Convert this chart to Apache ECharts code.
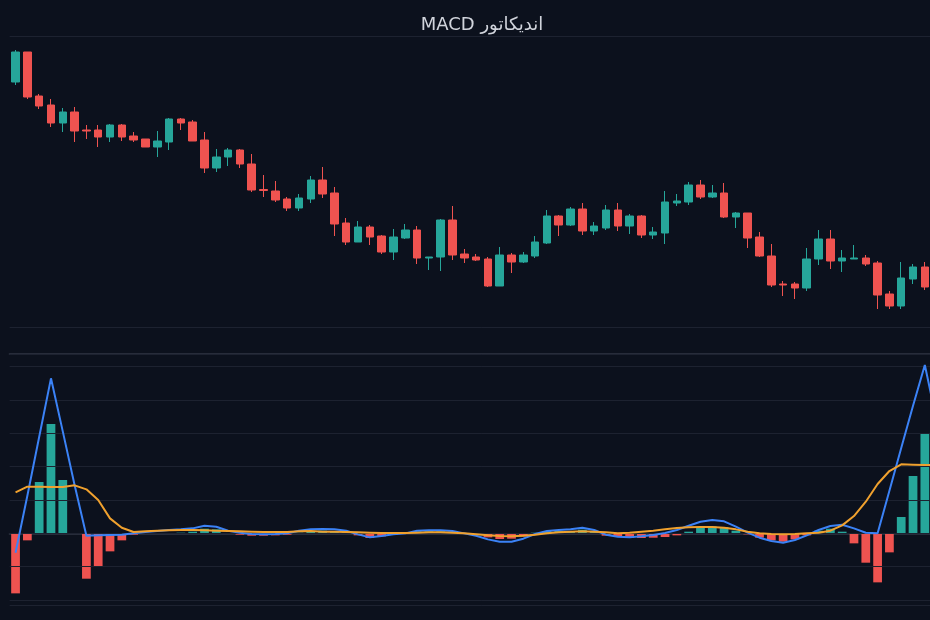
<!DOCTYPE html>
<html lang="fa">
<head>
<meta charset="utf-8">
<title>MACD</title>
<script src="https://cdn.jsdelivr.net/npm/echarts@6.0.0/dist/echarts.min.js"></script>
<style>
    html, body { margin: 0; padding: 0; background: #0c111d; overflow: hidden; }
    #macd { width: 964px; height: 620px; }
</style>
</head>
<body>
<div id="macd" dir="rtl"></div>
<script>
// candles: [open, close, low, high]
var candles = [
    [245, 275, 242, 277], [275, 230, 228, 275], [231, 221, 218, 233], [222, 204, 200, 228], [204, 215, 195, 219],
    [215, 196, 185, 220], [197, 196, 188, 202], [197, 190, 180, 202], [190, 202, 185, 203], [202, 190, 186, 203],
    [191, 187, 185, 195], [188, 180, 180, 188], [180, 186, 170, 196], [185, 208, 177, 209], [208, 204, 197, 209],
    [205, 186, 186, 207], [187, 159, 154, 195], [159, 170, 155, 178], [170, 177, 161, 179], [177, 163, 159, 178],
    [163, 137, 135, 173], [137.5, 136.5, 130, 152], [136, 127, 125, 146], [128, 119, 116, 130], [119, 129, 116, 133],
    [128, 147, 124, 151], [147, 133, 129, 160], [134, 103, 91, 140], [104, 85, 82, 109], [85, 100, 85, 106],
    [100, 90, 82, 102], [91, 75, 73, 92], [75, 90, 67, 98], [89, 97, 88, 103], [97, 69, 63, 101],
    [69, 70, 57, 70], [70, 107, 56, 108], [107, 72, 67, 121], [73, 69, 64, 78], [70, 67, 66, 73],
    [68, 41, 40, 70], [41, 72, 41, 80], [72, 65, 54, 74], [65, 72, 64, 75], [71, 85, 69, 91],
    [84, 111, 83, 117], [111, 102, 91, 112], [102, 118, 101, 120], [118, 96, 92, 124], [96, 101, 92, 105],
    [99, 117, 97, 122], [117, 101, 96, 124], [101, 111, 93, 113], [111, 92, 89, 112], [92, 95, 88, 100],
    [94, 125, 83, 136], [124, 126, 121, 133], [125, 142, 122, 145], [142, 130, 128, 147], [130, 134, 129, 142],
    [134, 110, 109, 144], [110, 114, 99, 115], [114, 89, 79, 114], [90, 71, 70, 95], [71, 42, 40, 83],
    [43, 42, 31, 46], [43, 39, 28, 45], [39, 68, 36, 79], [68, 88, 62, 97], [88, 66, 58, 97],
    [66, 69, 55, 77], [68, 69, 68, 82], [69, 63, 61, 72], [64, 32, 18, 66], [33, 21, 18, 36],
    [21, 49, 18, 65], [48, 60, 43, 63], [60, 40, 37, 65], [40, 30, 25, 45], [30, 35, 25, 40]
];

var difData = [
    -5.8, 11.3, 28.9, 46.5, 30.6, 14.5, -0.7, -0.6, -0.5, -0.4,
    0, 0.4, 0.7, 1.0, 1.2, 1.5, 2.3, 2.0, 0.8, 0.2,
    -0.2, -0.3, -0.2, 0, 0.8, 1.2, 1.3, 1.2, 0.8, -0.3,
    -1.2, -0.8, -0.3, 0, 0.8, 0.9, 0.9, 0.7, 0, -0.7,
    -1.8, -2.5, -2.5, -1.6, -0.2, 0.7, 1.0, 1.2, 1.7, 1.0,
    -0.4, -1.0, -1.2, -0.9, -0.5, 0.1, 1.0, 2.3, 3.5, 4.0,
    3.6, 2.0, 0.2, -1.3, -2.3, -2.8, -2.0, -0.6, 1.0, 2.2,
    2.6, 1.5, 0.2, 0, 12.8, 25.6, 38.3, 50.5, 33.7, 17
];

var deaData = [
    12.3, 14.0, 14.0, 13.9, 13.9, 14.4, 13.2, 10.0, 4.5, 1.7,
    0.4, 0.6, 0.8, 0.9, 1.0, 1.0, 0.9, 0.8, 0.7, 0.6,
    0.5, 0.4, 0.4, 0.4, 0.6, 0.7, 0.5, 0.5, 0.4, 0.3,
    0.2, 0.1, 0.1, 0.1, 0.2, 0.3, 0.3, 0.2, 0, -0.3,
    -0.6, -0.8, -0.9, -0.7, -0.4, 0, 0.3, 0.5, 0.6, 0.5,
    0.3, 0, 0.2, 0.5, 0.8, 1.2, 1.6, 1.8, 1.9, 1.9,
    1.7, 1.2, 0.5, 0, -0.2, -0.3, -0.2, 0, 0.2, 0.8,
    2.4, 5.2, 9.5, 14.8, 18.7, 20.7, 20.6, 20.5, 20.5, 20
];

var histData = [
    -18, -2.1, 15.4, 32.8, 16, 0.1, -13.6, -10, -5.4, -2.1,
    -0.4, -0.2, -0.1, 0.1, 0.2, 0.5, 1.4, 1.2, 0.1, -0.4,
    -0.7, -0.7, -0.6, -0.4, 0.2, 0.5, 0.8, 0.7, 0.4, -0.6,
    -1.4, -0.9, -0.4, -0.1, 0.6, 0.6, 0.6, 0.5, 0, -0.4,
    -1.2, -1.7, -1.6, -0.9, 0.2, 0.7, 0.7, 0.7, 1.1, 0.5,
    -0.7, -1.0, -1.4, -1.4, -1.3, -1.1, -0.6, 0.5, 1.6, 2.1,
    1.9, 0.8, -0.3, -1.3, -2.1, -2.5, -1.8, -0.6, 0.8, 1.4,
    0.5, -3, -8.8, -14.7, -5.7, 4.9, 17.2, 30.1, 13.2, -3
];

// no labels are shown, so just day numbers
var days = [];
for (var i = 0; i < candles.length; i++) {
    days.push('D' + (i + 1));
}

var upColor = '#26a69a';
var downColor = '#ef5350';
var gridLine = '#1d2230';
var axisLine = '#272c3a';

var coloredHist = [];
for (i = 0; i < histData.length; i++) {
    coloredHist.push({ value: histData[i], itemStyle: { color: histData[i] >= 0 ? upColor : downColor } });
}

var myChart = echarts.init(document.getElementById('macd'));

var option = {
    backgroundColor: '#0c111d',
    animation: false,
    title: {
        text: 'اندیکاتور MACD',
        left: 'center',
        top: 11,
        textStyle: { color: '#d1d4dc', fontSize: 18, fontWeight: 'normal', fontFamily: 'DejaVu Sans' }
    },
    grid: [
        { left: '1%', right: '1%', top: 36, height: 291 },
        { left: '1%', right: '1%', top: 354, height: 251.7 }
    ],
    xAxis: [
        {
            type: 'category', gridIndex: 0, data: days, boundaryGap: true,
            axisLine: { show: false },
            axisTick: { show: false }, axisLabel: { show: false }, splitLine: { show: false }
        },
        {
            type: 'category', gridIndex: 1, data: days, boundaryGap: true,
            axisLine: { show: true, lineStyle: { color: axisLine, width: 2 } },
            axisTick: { show: false }, axisLabel: { show: false }, splitLine: { show: false }
        },
        {
            // top edge of the MACD panel
            type: 'category', gridIndex: 1, data: days, position: 'top',
            axisLine: { show: true, lineStyle: { color: axisLine, width: 2 } },
            axisTick: { show: false }, axisLabel: { show: false }, splitLine: { show: false }
        }
    ],
    yAxis: [
        {
            gridIndex: 0, min: 0, max: 291, interval: 291,
            axisLine: { show: false }, axisTick: { show: false }, axisLabel: { show: false },
            splitLine: { show: true, lineStyle: { color: gridLine } }
        },
        {
            gridIndex: 1, min: -21.7, max: 53.8, splitNumber: 8, z: 3,
            axisLine: { show: false }, axisTick: { show: false }, axisLabel: { show: false },
            splitLine: { show: true, lineStyle: { color: gridLine } }
        }
    ],
    series: [
        {
            name: 'Price',
            type: 'candlestick',
            xAxisIndex: 0,
            yAxisIndex: 0,
            barWidth: '68%',
            data: candles,
            itemStyle: { color: upColor, color0: downColor, borderColor: upColor, borderColor0: downColor }
        },
        {
            name: 'MACD',
            type: 'bar',
            xAxisIndex: 1,
            yAxisIndex: 1,
            barWidth: '74%',
            z: 2,
            data: coloredHist
        },
        {
            name: 'DIF',
            type: 'line',
            xAxisIndex: 1,
            yAxisIndex: 1,
            z: 4,
            symbol: 'none',
            lineStyle: { color: '#3b82f6', width: 2 },
            data: difData
        },
        {
            name: 'DEA',
            type: 'line',
            xAxisIndex: 1,
            yAxisIndex: 1,
            z: 5,
            symbol: 'none',
            lineStyle: { color: '#f0a12e', width: 2 },
            data: deaData
        }
    ]
};

myChart.setOption(option);
</script>
</body>
</html>
